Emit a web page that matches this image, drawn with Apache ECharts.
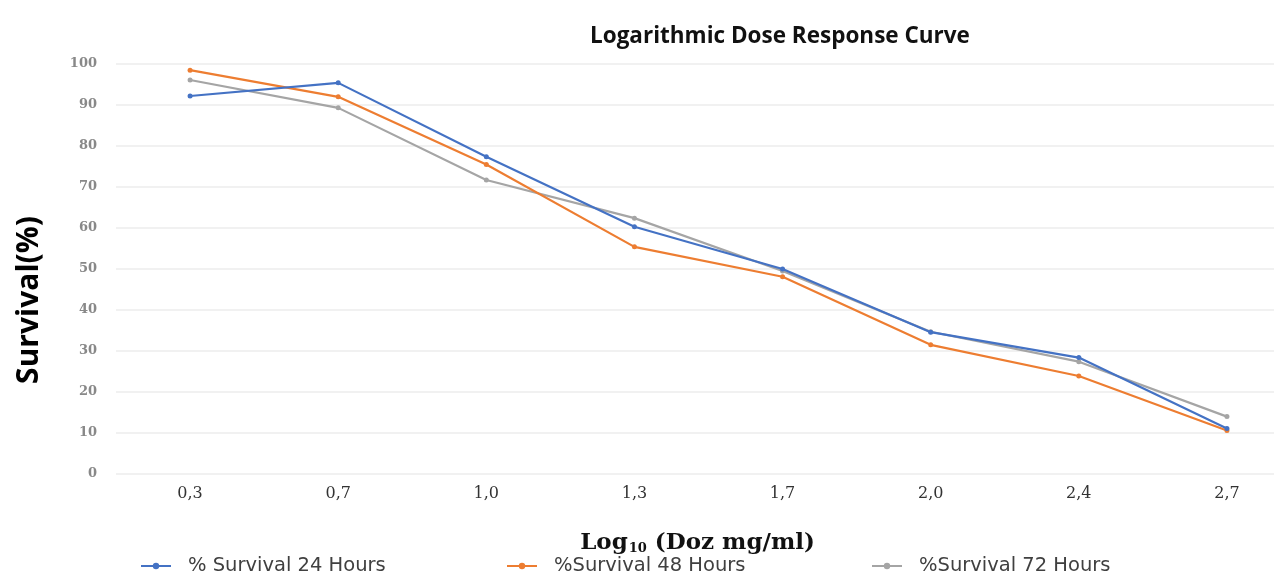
<!DOCTYPE html>
<html>
<head>
<meta charset="utf-8">
<script src="https://cdn.jsdelivr.net/npm/echarts@6/dist/echarts.min.js"></script>
<style>
    html, body { margin: 0; padding: 0; background: #fff; }
    #chart { width: 1274px; height: 575px; }
</style>
</head>
<body>
<div id="chart"></div>
<script>
var doses = ['0,3', '0,7', '1,0', '1,3', '1,7', '2,0', '2,4', '2,7'];
var survival24 = [92.2, 95.4, 77.4, 60.3, 50.0, 34.6, 28.4, 11.1];
var survival48 = [98.5, 92.0, 75.5, 55.4, 48.1, 31.5, 23.9, 10.6];
var survival72 = [96.1, 89.3, 71.7, 62.4, 49.5, 34.7, 27.4, 14.0];
var seriesNames = ['% Survival 24 Hours', '%Survival 48 Hours', '%Survival 72 Hours'];
var seriesColors = ['#4472c4', '#ed7d31', '#a5a5a5'];
var yTicks = [0, 10, 20, 30, 40, 50, 60, 70, 80, 90, 100];

var chart = echarts.init(document.getElementById('chart'));

// one legend per item, placed like the original
var legendLeft = [140, 506, 871];
var legends = [];
for (var i = 0; i < seriesNames.length; i++) {
    legends.push({
        data: [seriesNames[i]],
        left: legendLeft[i],
        top: 556,
        padding: 0,
        itemWidth: 30,
        itemHeight: 8,
        textStyle: {
            fontFamily: 'DejaVu Sans',
            fontSize: 19.5,
            color: '#404040',
            padding: [0, 0, 0, 12]
        }
    });
}

var data = [survival24, survival48, survival72];
var series = [];
for (var i = 0; i < data.length; i++) {
    series.push({
        name: seriesNames[i],
        type: 'line',
        data: data[i],
        symbol: 'circle',
        symbolSize: 5,
        color: seriesColors[i],
        lineStyle: { width: 2.2, color: seriesColors[i] },
        itemStyle: { color: seriesColors[i] },
        z: 3 - i
    });
}

var option = {
    animation: false,
    backgroundColor: '#ffffff',
    title: {
        text: 'Logarithmic Dose Response Curve',
        left: 585,
        top: 20,
        textStyle: {
            fontFamily: 'Open Sans',
            fontWeight: 'bold',
            fontSize: 22.5,
            color: '#111'
        }
    },
    legend: legends,
    grid: {
        left: 116,
        top: 64,
        width: 1185,
        height: 410,
        outerBoundsMode: 'none',
        containLabel: false
    },
    xAxis: {
        type: 'category',
        data: doses,
        boundaryGap: true,
        axisLine: { show: false },
        axisTick: { show: false },
        axisLabel: {
            margin: 12,
            fontFamily: 'DejaVu Serif',
            fontSize: 16,
            color: '#333'
        },
        name: '{a|Log}{b|10}{a| (Doz mg/ml)}',
        nameLocation: 'middle',
        nameGap: 58,
        nameTextStyle: {
            padding: [0, 22, 0, 0],
            rich: {
                a: {
                    fontFamily: 'DejaVu Serif',
                    fontWeight: 'bold',
                    fontSize: 23,
                    color: '#111'
                },
                b: {
                    fontFamily: 'DejaVu Serif',
                    fontWeight: 'bold',
                    fontSize: 13,
                    color: '#111',
                    padding: [10, 0, 0, 1]
                }
            }
        }
    },
    yAxis: {
        type: 'value',
        min: yTicks[0],
        max: yTicks[yTicks.length - 1],
        interval: 10,
        axisLine: { show: false },
        axisTick: { show: false },
        splitLine: { lineStyle: { color: '#ececec', width: 1.5 } },
        axisLabel: {
            margin: 19,
            fontFamily: 'DejaVu Serif',
            fontWeight: 'bold',
            fontSize: 13,
            color: '#888'
        }
    },
    graphic: [{
        type: 'text',
        x: 29,
        y: 300,
        rotation: Math.PI / 2,
        style: {
            text: 'Survival(%)',
            fontFamily: 'Open Sans',
            fontWeight: 'bold',
            fontSize: 30,
            fill: '#000',
            align: 'center',
            verticalAlign: 'middle'
        }
    }],
    series: series
};

chart.setOption(option);
</script>
</body>
</html>
